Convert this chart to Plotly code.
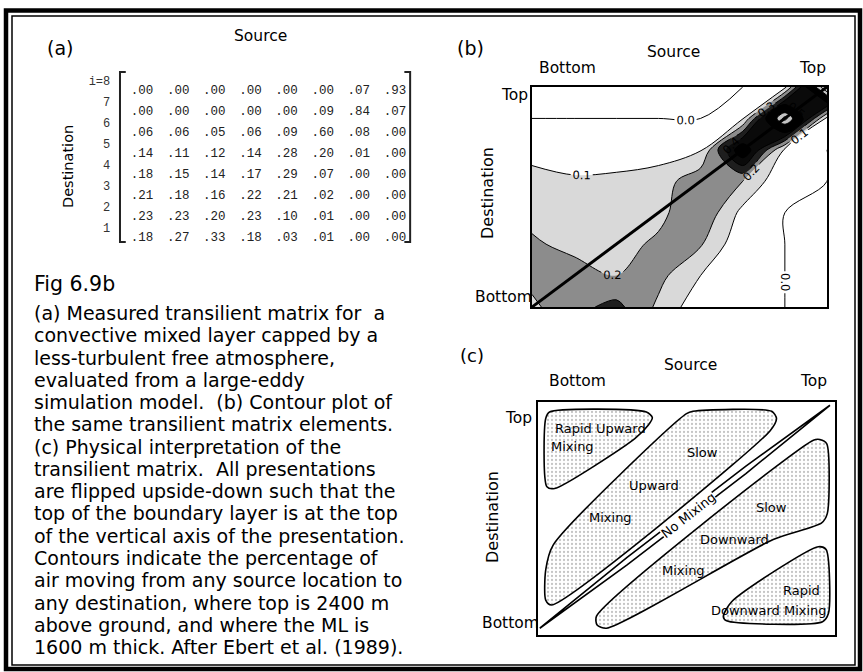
import plotly.graph_objects as go

W, H = 863, 672
SANS = "DejaVu Sans, Verdana, sans-serif"
MONO = "Liberation Mono, Courier New, monospace"

# ---------------- data: transilient matrix (panel a / b) ----------------
sources = [1, 2, 3, 4, 5, 6, 7, 8]            # j (source level, bottom -> top)
destinations = [8, 7, 6, 5, 4, 3, 2, 1]       # i (destination level, as printed)
row_i8 = [.00, .00, .00, .00, .00, .00, .07, .93]
row_i7 = [.00, .00, .00, .00, .00, .09, .84, .07]
row_i6 = [.06, .06, .05, .06, .09, .60, .08, .00]
row_i5 = [.14, .11, .12, .14, .28, .20, .01, .00]
row_i4 = [.18, .15, .14, .17, .29, .07, .00, .00]
row_i3 = [.21, .18, .16, .22, .21, .02, .00, .00]
row_i2 = [.23, .23, .20, .23, .10, .01, .00, .00]
row_i1 = [.18, .27, .33, .18, .03, .01, .00, .00]
matrix = [row_i8, row_i7, row_i6, row_i5, row_i4, row_i3, row_i2, row_i1]
header_labels = ["j = 1", "2", "3", "4", "5", "6", "7", "8"]
row_labels = ["i=8", "7", "6", "5", "4", "3", "2", "1"]

contour_levels = dict(start=0.0, end=0.9, size=0.1)
band_greys = ["#ffffff", "#ffffff", "#d9d9d9", "#8c8c8c", "#1e1e1e", "#0a0a0a",
              "#000000", "#000000", "#c4c4c4", "#c4c4c4", "#000000"]

# ---------------- panel c schematic (normalised box coords) ----------------
region_rapid_up = [(0.026, 0.929), (0.039, 0.957), (0.365, 0.957), (0.385, 0.933),
                   (0.371, 0.900), (0.326, 0.843), (0.056, 0.629), (0.030, 0.636),
                   (0.026, 0.929)]
region_slow_up = [(0.522, 0.960), (0.787, 0.960), (0.803, 0.929), (0.781, 0.876),
                  (0.045, 0.129), (0.026, 0.150), (0.026, 0.279), (0.051, 0.386),
                  (0.500, 0.950), (0.522, 0.960)]
region_slow_down = [(0.949, 0.839), (0.972, 0.821), (0.974, 0.521), (0.955, 0.481),
                    (0.792, 0.410), (0.230, 0.029), (0.199, 0.043), (0.197, 0.081),
                    (0.927, 0.836), (0.949, 0.839)]
region_rapid_down = [(0.652, 0.143), (0.944, 0.379), (0.970, 0.367), (0.978, 0.093),
                     (0.958, 0.057), (0.635, 0.061), (0.624, 0.079), (0.652, 0.143)]
region_no_mix = [(0.006, 0.029), (0.300, 0.333), (0.700, 0.725), (0.983, 0.986),
                 (0.700, 0.693), (0.300, 0.301), (0.006, 0.029)]

caption_lines = [
    "(a) Measured transilient matrix for  a",
    "convective mixed layer capped by a",
    "less-turbulent free atmosphere,",
    "evaluated from a large-eddy",
    "simulation model.  (b) Contour plot of",
    "the same transilient matrix elements.",
    "(c) Physical interpretation of the",
    "transilient matrix.  All presentations",
    "are flipped upside-down such that the",
    "top of the boundary layer is at the top",
    "of the vertical axis of the presentation.",
    "Contours indicate the percentage of",
    "air moving from any source location to",
    "any destination, where top is 2400 m",
    "above ground, and where the ML is",
    "1600 m thick. After Ebert et al. (1989).",
]


def X(px):
    return px / W


def Y(py):
    return 1 - py / H


fig = go.Figure()

# ---------- panel (a): matrix as text ----------
xs, ys, ts = [], [], []
for r, dest in enumerate(destinations):
    for c, src in enumerate(sources):
        xs.append(src)
        ys.append(dest)
        ts.append(f"{matrix[r][c]:.2f}"[1:])
fig.add_trace(go.Scatter(x=xs, y=ys, text=ts, mode="text", xaxis="x", yaxis="y",
                         textfont=dict(family=MONO, size=12.5, color="#222"),
                         hoverinfo="skip", cliponaxis=False))
hx = [s + 0.17 for s in sources]
hx[0] = sources[0] + 0.33
fig.add_trace(go.Scatter(x=hx, y=[max(destinations) + 1.43] * len(sources),
                         text=header_labels, mode="text", xaxis="x", yaxis="y",
                         textposition=["middle left"] + ["middle center"] * 7,
                         textfont=dict(family=MONO, size=12, color="#333"),
                         hoverinfo="skip", cliponaxis=False))
fig.add_trace(go.Scatter(x=[0.12] * len(destinations), y=[d + 0.43 for d in destinations],
                         text=row_labels, mode="text", xaxis="x", yaxis="y",
                         textposition="middle left",
                         textfont=dict(family=MONO, size=12, color="#333"),
                         hoverinfo="skip", cliponaxis=False))
top, bot = max(destinations) + 0.9, min(destinations) - 0.19
lo, hi = min(sources) - 0.61, max(sources) + 0.42
for xb, tick in ((lo, 0.16), (hi, -0.16)):
    fig.add_trace(go.Scatter(x=[xb + tick, xb, xb, xb + tick], y=[top, top, bot, bot],
                             mode="lines", xaxis="x", yaxis="y",
                             line=dict(color="#222", width=2), hoverinfo="skip",
                             cliponaxis=False))

# ---------- panel (b): contour ----------
dest_asc = sorted(destinations)
z = [matrix[destinations.index(d)] for d in dest_asc]
n = len(band_greys) - 1
fig.add_trace(go.Contour(
    x=sources, y=dest_asc, z=z, xaxis="x2", yaxis="y2", autocontour=False,
    contours=dict(start=contour_levels["start"], end=contour_levels["end"],
                  size=contour_levels["size"], coloring="fill", showlabels=True,
                  labelfont=dict(family=SANS, size=11.5, color="black"),
                  labelformat=".1f"),
    colorscale=[[k / n, c] for k, c in enumerate(band_greys)],
    showscale=False, line=dict(color="black", width=1, smoothing=1.0),
    hoverinfo="skip"))
fig.add_trace(go.Scatter(x=[sources[0], sources[-1]], y=[dest_asc[0], dest_asc[-1]],
                         mode="lines", xaxis="x2", yaxis="y2",
                         line=dict(color="black", width=3), hoverinfo="skip"))

# ---------- panel (c): schematic ----------
pattern = dict(shape=".", bgcolor="white", fgcolor="#8a8a8a", size=4, solidity=0.25)
for reg in (region_rapid_up, region_slow_up, region_slow_down, region_rapid_down):
    fig.add_trace(go.Scatter(x=[p[0] for p in reg], y=[p[1] for p in reg],
                             mode="lines", fill="toself", fillpattern=pattern,
                             fillcolor="white",
                             line=dict(color="black", width=1.6, shape="spline",
                                       smoothing=0.7),
                             xaxis="x3", yaxis="y3", hoverinfo="skip"))
fig.add_trace(go.Scatter(x=[p[0] for p in region_no_mix], y=[p[1] for p in region_no_mix],
                         mode="lines", line=dict(color="black", width=1.6),
                         xaxis="x3", yaxis="y3", hoverinfo="skip"))

# ---------- axes ----------
box = dict(showline=True, mirror=True, linecolor="black", linewidth=1.6,
           showticklabels=False, ticks="", showgrid=False, zeroline=False)
fig.update_layout(
    xaxis=dict(domain=[X(105.9), X(431.1)], range=[0, 9], visible=False, anchor="y"),
    yaxis=dict(domain=[Y(259), Y(70)], range=[0, 9], visible=False, anchor="x"),
    xaxis2=dict(domain=[X(532), X(827)], range=[1, 8], anchor="y2", **box),
    yaxis2=dict(domain=[Y(307), Y(87)], range=[1, 8], anchor="x2", **box),
    xaxis3=dict(domain=[X(538), X(835)], range=[0, 1], anchor="y3", **box),
    yaxis3=dict(domain=[Y(635), Y(402)], range=[0, 1], anchor="x3", **box),
)

# ---------- annotations ----------
ann = []


def txt(s, x, y, size, xanchor="center", angle=0, bg=None, family=SANS):
    d = dict(text=s, x=X(x), y=Y(y), xref="paper", yref="paper", showarrow=False,
             xanchor=xanchor, yanchor="middle", textangle=angle, borderpad=0,
             font=dict(family=family, size=size, color="#000"))
    if bg:
        d["bgcolor"] = bg
    ann.append(d)


LAB = 15.5
# panel a
txt("(a)", 60, 48, 19)
txt("Source", 260, 36, LAB)
txt("Destination", 68, 167, 14.5, angle=-90)
# panel b
txt("(b)", 470, 48, 19)
txt("Source", 673, 52, LAB)
txt("Bottom", 567, 68, LAB)
txt("Top", 812, 68, LAB)
txt("Top", 514, 95, LAB)
txt("Bottom", 503, 297, LAB)
txt("Destination", 487, 193, 16, angle=-90)
# panel c
txt("(c)", 472, 355, 18)
txt("Source", 690, 365, LAB)
txt("Bottom", 577, 381, LAB)
txt("Top", 813, 381, LAB)
txt("Top", 518, 418, LAB)
txt("Bottom", 510, 623, LAB)
txt("Destination", 492, 517, 16, angle=-90)
IN = 13
txt("Rapid Upward", 600, 428, IN)
txt("Mixing", 572, 446, IN)
txt("Slow", 702, 452, IN)
txt("Upward", 654, 485, IN)
txt("Mixing", 610, 517, IN)
txt("No Mixing", 688, 515, IN, angle=-38, bg="white")
txt("Slow", 771, 507, IN)
txt("Downward", 734, 539, IN)
txt("Mixing", 683, 570, IN)
txt("Rapid", 801, 590, IN)
txt("Downward Mixing", 769, 610, IN)
# caption
txt("Fig 6.9b", 33, 284, 20.5, xanchor="left")
for k, line in enumerate(caption_lines):
    txt(line, 33, 313 + k * 22.27, 19, xanchor="left")

# ---------- outer double frame ----------
shapes = [
    dict(type="rect", xref="paper", yref="paper", x0=X(6), x1=X(860), y0=Y(669), y1=Y(10.5),
         line=dict(color="black", width=4.5)),
    dict(type="rect", xref="paper", yref="paper", x0=X(12), x1=X(855), y0=Y(665), y1=Y(16),
         line=dict(color="black", width=1.5)),
]

fig.update_layout(width=W, height=H, margin=dict(l=0, r=0, t=0, b=0), autosize=False,
                  paper_bgcolor="white", plot_bgcolor="white", showlegend=False,
                  hovermode=False, annotations=ann, shapes=shapes)

fig.write_html("out.html", config={"displayModeBar": False},
               post_script="document.body.style.margin='0';"
                           "document.body.style.overflow='hidden';")
